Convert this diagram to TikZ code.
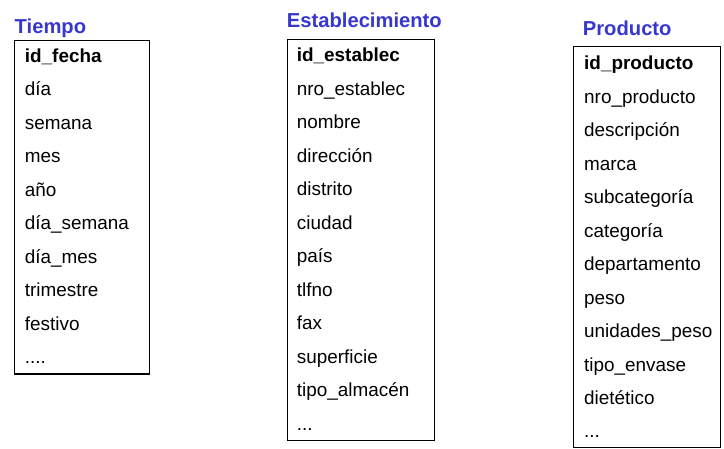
\documentclass[tikz,border=0pt]{standalone}
\usepackage{fontspec}
\setmainfont{Liberation Sans}
\definecolor{titleblue}{RGB}{55,55,208}
\begin{document}
\begin{tikzpicture}[x=1pt,y=-1pt,
  tablebox/.style={draw=black,line width=1.3pt},
  ttl/.style={anchor=base west,inner sep=0pt,text=titleblue,font=\fontsize{20.2}{24}\selectfont\bfseries},
  item/.style={anchor=base west,inner sep=0pt,font=\fontsize{18.9}{22}\selectfont},
  key/.style={item,font=\fontsize{18.9}{22}\selectfont\bfseries}]
\useasboundingbox (0,0) rectangle (724,449);
% boxes
\draw[tablebox] (14.3,40.3) rectangle (149.3,374);
\draw[tablebox] (287.3,39.3) rectangle (434.3,440.7);
\draw[tablebox] (573.3,46.7) rectangle (720.7,447.3);
% titles
\node[ttl] (ttiempo) at (14.5,34) {Tiempo};
\node[ttl] (testab) at (286.7,27.5) {Establecimiento};
\node[ttl] (tprod) at (582.7,36) {Producto};
% Tiempo
\def\tx{24.7}\def\ty{62.3}\def\dy{33.5}
\node[key]  (t0) at (\tx,\ty) {id\_fecha};
\node[item] (t1) at (\tx,\ty+1*\dy) {día};
\node[item] (t2) at (\tx,\ty+2*\dy) {semana};
\node[item] (t3) at (\tx,\ty+3*\dy) {mes};
\node[item] (t4) at (\tx,\ty+4*\dy) {año};
\node[item] (t5) at (\tx,\ty+5*\dy) {día\_semana};
\node[item] (t6) at (\tx,\ty+6*\dy) {día\_mes};
\node[item] (t7) at (\tx,\ty+7*\dy) {trimestre};
\node[item] (t8) at (\tx,\ty+8*\dy) {festivo};
\node[item] (t9) at (\tx,\ty+9*\dy) {....};
% Establecimiento
\def\ex{296.7}\def\ey{61.7}
\node[key]  (e0) at (\ex,\ey) {id\_establec};
\node[item] (e1) at (\ex,\ey+1*\dy) {nro\_establec};
\node[item] (e2) at (\ex,\ey+2*\dy) {nombre};
\node[item] (e3) at (\ex,\ey+3*\dy) {dirección};
\node[item] (e4) at (\ex,\ey+4*\dy) {distrito};
\node[item] (e5) at (\ex,\ey+5*\dy) {ciudad};
\node[item] (e6) at (\ex,\ey+6*\dy) {país};
\node[item] (e7) at (\ex,\ey+7*\dy) {tlfno};
\node[item] (e8) at (\ex,\ey+8*\dy) {fax};
\node[item] (e9) at (\ex,\ey+9*\dy) {superficie};
\node[item] (e10) at (\ex,\ey+10*\dy) {tipo\_almacén};
\node[item] (e11) at (\ex,\ey+11*\dy) {...};
% Producto
\def\px{584}\def\py{70}\def\pdy{33.45}
\node[key]  (p0) at (\px,\py) {id\_producto};
\node[item] (p1) at (\px,\py+1*\pdy) {nro\_producto};
\node[item] (p2) at (\px,\py+2*\pdy) {descripción};
\node[item] (p3) at (\px,\py+3*\pdy) {marca};
\node[item] (p4) at (\px,\py+4*\pdy) {subcategoría};
\node[item] (p5) at (\px,\py+5*\pdy) {categoría};
\node[item] (p6) at (\px,\py+6*\pdy) {departamento};
\node[item] (p7) at (\px,\py+7*\pdy) {peso};
\node[item] (p8) at (\px,\py+8*\pdy) {unidades\_peso};
\node[item] (p9) at (\px,\py+9*\pdy) {tipo\_envase};
\node[item] (p10) at (\px,\py+10*\pdy) {dietético};
\node[item] (p11) at (\px,\py+11*\pdy) {...};
\end{tikzpicture}
\end{document}
